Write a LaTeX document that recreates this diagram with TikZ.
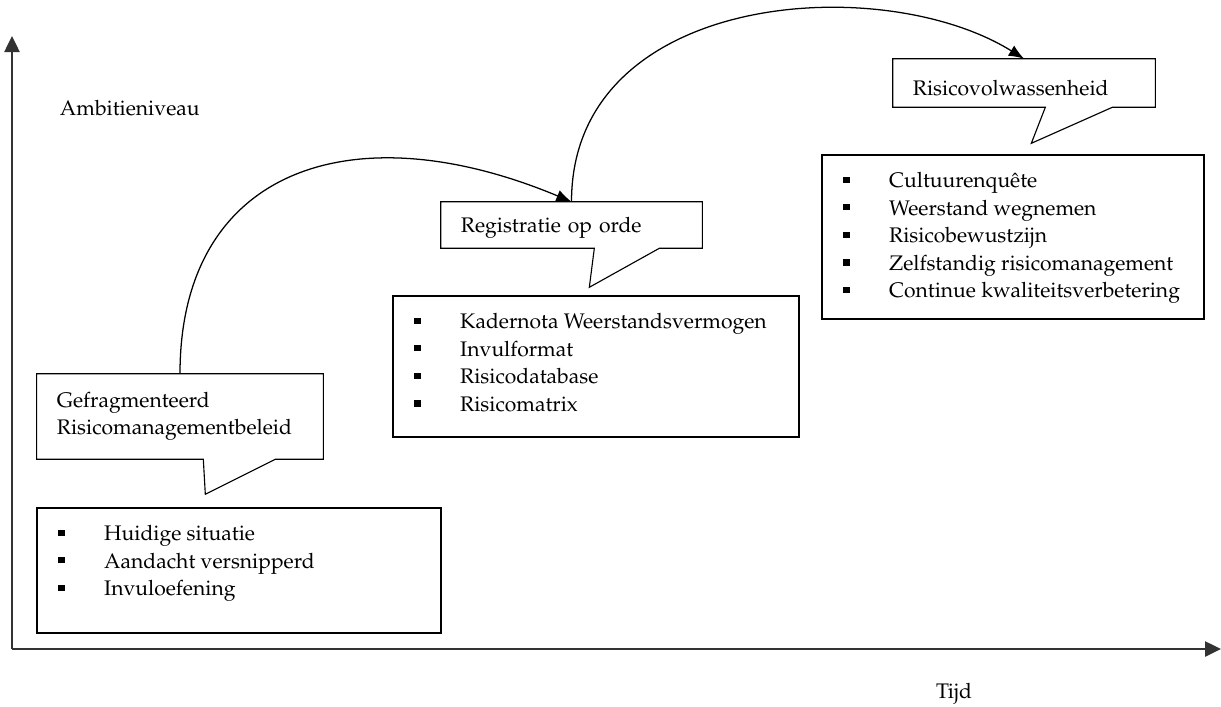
\documentclass[tikz,border=0pt]{standalone}
\usepackage[T1]{fontenc}
\usepackage{mathpazo}
\usepackage{tikz}
\usetikzlibrary{arrows.meta, positioning}

\newcommand{\bul}{\rule[0.22em]{0.3em}{0.3em}}
\newcommand{\txtsize}{\fontsize{15}{19.6}\selectfont}

\begin{document}
\begin{tikzpicture}[
    x=0.025cm, y=-0.025cm,
    axis/.style={-{Triangle[length=0.4cm, width=0.38cm]}, line width=1.3pt, black!80},
    phase/.style={rectangle, minimum height=1.15cm, inner xsep=0.5cm,
                  align=left, font=\txtsize},
    balloon/.style={line width=0.8pt},
    listbox/.style={rectangle, draw, line width=1.5pt},
    listtext/.style={inner sep=0pt, font=\txtsize},
    jump/.style={-{Latex[length=0.38cm, width=0.3cm]}, line width=0.9pt},
    axislabel/.style={font=\txtsize},
]
  \useasboundingbox (0,0) rectangle (1221,706);

  % axes
  \coordinate (origin) at (12,649);
  \coordinate (ytip) at (12,36);
  \coordinate (xtip) at (1221,649);
  \draw[axis] (origin) -- (ytip);
  \draw[axis] (origin) -- (xtip);
  \node[axislabel, anchor=west] (amb) at (55,108) {Ambitieniveau};
  \node[axislabel] (tijd) at (954,694) {Tijd};

  % phases
  \node[phase, minimum width=7.15cm, minimum height=2.125cm, text width=6.15cm]
       (gef) at (180,416.5) {Gefragmenteerd\\Risicomanagementbeleid};
  \node[phase, minimum width=6.525cm, text width=5.525cm, text height=15pt]
       (reg) at (571.5,225) {Registratie op orde};
  \node[phase, minimum width=6.55cm, minimum height=1.2cm, text width=5.55cm, text height=18pt]
       (risk) at (1024,83) {Risicovolwassenheid};

  \draw[balloon] (gef.south west) -- (gef.north west) -- (gef.north east)
    -- (gef.south east) -- ++(-48,0) -- ++(-70,35) -- ++(-2,-35) -- cycle;
  \draw[balloon] (reg.south west) -- (reg.north west) -- (reg.north east)
    -- (reg.south east) -- ++(-43,0) -- ++(-70,39) -- ++(5,-39) -- cycle;
  \draw[balloon] (risk.south west) -- (risk.north west) -- (risk.north east)
    -- (risk.south east) -- ++(-43,0) -- ++(-81,36) -- ++(14,-36) -- cycle;

  % lists
  \node[listbox, minimum width=10.1cm, minimum height=3.125cm] (now) at (239,570.5) {};
  \node[listbox, minimum width=10.15cm, minimum height=3.525cm] (order) at (596,366.5) {};
  \node[listbox, minimum width=9.55cm, minimum height=4.1cm] (mature) at (1013,237) {};

  \node[listtext, below right=0.35cm and 0.55cm of now.north west] (nowitems) {%
    \begin{tabular}{@{}p{1.15cm}@{}l@{}}
      \bul & Huidige situatie \\
      \bul & Aandacht versnipperd \\
      \bul & Invuloefening
    \end{tabular}};
  \node[listtext, below right=0.35cm and 0.55cm of order.north west] (orderitems) {%
    \begin{tabular}{@{}p{1.15cm}@{}l@{}}
      \bul & Kadernota Weerstandsvermogen \\
      \bul & Invulformat \\
      \bul & Risicodatabase \\
      \bul & Risicomatrix
    \end{tabular}};
  \node[listtext, below right=0.35cm and 0.55cm of mature.north west] (matureitems) {%
    \begin{tabular}{@{}p{1.15cm}@{}l@{}}
      \bul & Cultuurenqu\^{e}te \\
      \bul & Weerstand wegnemen \\
      \bul & Risicobewustzijn \\
      \bul & Zelfstandig risicomanagement \\
      \bul & Continue kwaliteitsverbetering
    \end{tabular}};

  % steps up
  \draw[jump] (gef.north) .. controls +(0,-204) and +(-220,-92) .. (reg.north);
  \draw[jump] (reg.north) .. controls +(0,-210) and +(-143,-89) .. (risk.north);
\end{tikzpicture}
\end{document}
